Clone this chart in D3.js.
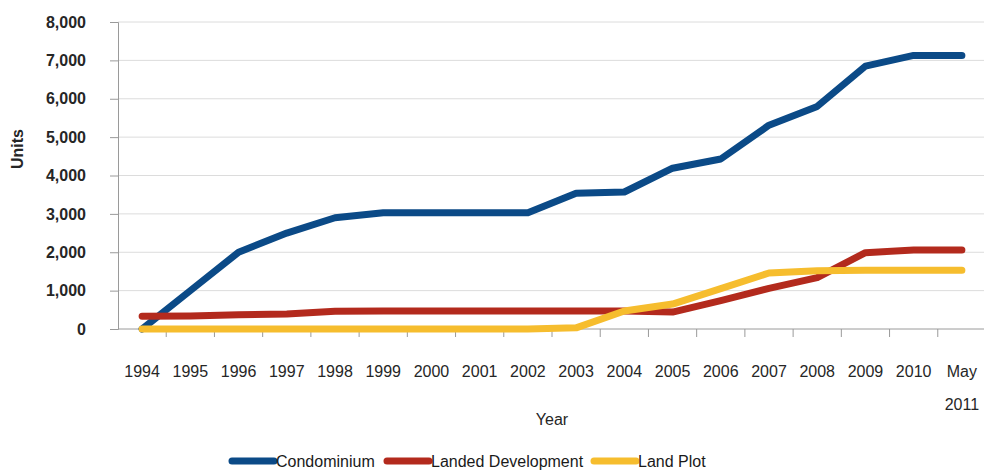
<!DOCTYPE html>
<html>
<head>
<meta charset="utf-8">
<script src="https://cdn.jsdelivr.net/npm/d3@7"></script>
<style>
  body { margin: 0; background: #fff; }
  svg { display: block; font-family: "Liberation Sans", Arial, sans-serif; }
</style>
</head>
<body>
<svg id="chart"></svg>
<script>
const categories = ["1994", "1995", "1996", "1997", "1998", "1999", "2000", "2001", "2002",
  "2003", "2004", "2005", "2006", "2007", "2008", "2009", "2010", "May 2011"];
const condominium = [0, 1000, 2000, 2500, 2900, 3030, 3030, 3030, 3030,
  3540, 3570, 4190, 4430, 5310, 5800, 6850, 7130, 7130];
const landedDevelopment = [330, 340, 370, 390, 460, 470, 470, 470, 470,
  470, 470, 440, 740, 1060, 1340, 1990, 2060, 2060];
const landPlot = [0, 0, 0, 0, 0, 0, 0, 0, 0,
  30, 470, 650, 1050, 1460, 1520, 1530, 1530, 1530];
const yTicks = [0, 1000, 2000, 3000, 4000, 5000, 6000, 7000, 8000];

const seriesList = [
  { name: "Condominium", values: condominium, color: "#0b4a87" },
  { name: "Landed Development", values: landedDevelopment, color: "#b32a1d" },
  { name: "Land Plot", values: landPlot, color: "#f6bd2e" }
];

const width = 984, height = 470;
const plotLeft = 118, plotRight = 986, plotTop = 22, plotBottom = 329;
const textColor = "#262626";

const svg = d3.select("#chart").attr("width", width).attr("height", height);

const x = d3.scaleBand().domain(categories).range([plotLeft, plotRight]);
const y = d3.scaleLinear().domain([0, 8000]).range([plotBottom, plotTop]);

// --- gridlines ---
svg.append("g")
  .selectAll("line")
  .data(yTicks.slice(1))
  .join("line")
  .attr("x1", plotLeft).attr("x2", width)
  .attr("y1", d => y(d)).attr("y2", d => y(d))
  .attr("stroke", "#dcdcdc").attr("stroke-width", 1);

// --- y axis ---
const yAxis = svg.append("g")
  .attr("transform", `translate(${plotLeft},0)`)
  .call(d3.axisLeft(y).tickValues(yTicks).tickFormat(d3.format(",")).tickSize(8).tickPadding(24));
yAxis.select(".domain").attr("stroke", "#9a9a9a");
yAxis.selectAll(".tick line").attr("stroke", "#9a9a9a");
yAxis.selectAll("text")
  .attr("font-size", 16).attr("font-weight", "bold").attr("fill", textColor)
  .attr("font-family", "\"Liberation Sans\", Arial, sans-serif");

// --- x axis (ticks at category boundaries) ---
const bounds = categories.map(c => x(c)).slice(1);
svg.append("line")
  .attr("x1", plotLeft).attr("x2", width)
  .attr("y1", plotBottom).attr("y2", plotBottom)
  .attr("stroke", "#9a9a9a");
svg.append("g")
  .selectAll("line")
  .data(bounds)
  .join("line")
  .attr("x1", d => d).attr("x2", d => d)
  .attr("y1", plotBottom).attr("y2", plotBottom + 8)
  .attr("stroke", "#9a9a9a");

const xLabels = svg.append("g")
  .selectAll("text")
  .data(categories)
  .join("text")
  .attr("x", d => x(d) + x.bandwidth() / 2)
  .attr("y", 377)
  .attr("text-anchor", "middle")
  .attr("font-size", 16)
  .attr("fill", textColor);
xLabels.each(function (d) {
  const parts = d.split(" ");
  const t = d3.select(this);
  parts.forEach((p, i) => {
    t.append("tspan")
      .attr("x", x(d) + x.bandwidth() / 2)
      .attr("dy", i === 0 ? 0 : 33)
      .text(p);
  });
});

// --- axis titles ---
svg.append("text")
  .attr("transform", "translate(23,149) rotate(-90)")
  .attr("text-anchor", "middle")
  .attr("font-size", 16).attr("font-weight", "bold").attr("fill", textColor)
  .text("Units");
svg.append("text")
  .attr("x", 552).attr("y", 425)
  .attr("text-anchor", "middle")
  .attr("font-size", 16).attr("fill", textColor)
  .text("Year");

// --- lines ---
const line = d3.line()
  .x((d, i) => x(categories[i]) + x.bandwidth() / 2)
  .y(d => y(d));

svg.append("g")
  .selectAll("path")
  .data(seriesList)
  .join("path")
  .attr("d", d => line(d.values))
  .attr("fill", "none")
  .attr("stroke", d => d.color)
  .attr("stroke-width", 7)
  .attr("stroke-linejoin", "round")
  .attr("stroke-linecap", "round");

// --- legend ---
const legendX = [232, 387, 594];
const legend = svg.append("g")
  .selectAll("g")
  .data(seriesList)
  .join("g")
  .attr("transform", (d, i) => `translate(${legendX[i]},461)`);
legend.append("line")
  .attr("x1", 0).attr("x2", 42)
  .attr("y1", 0).attr("y2", 0)
  .attr("stroke", d => d.color)
  .attr("stroke-width", 7)
  .attr("stroke-linecap", "round");
legend.append("text")
  .attr("x", 44).attr("y", 6)
  .attr("font-size", 16).attr("fill", "#1a1a1a")
  .text(d => d.name);
</script>
</body>
</html>
